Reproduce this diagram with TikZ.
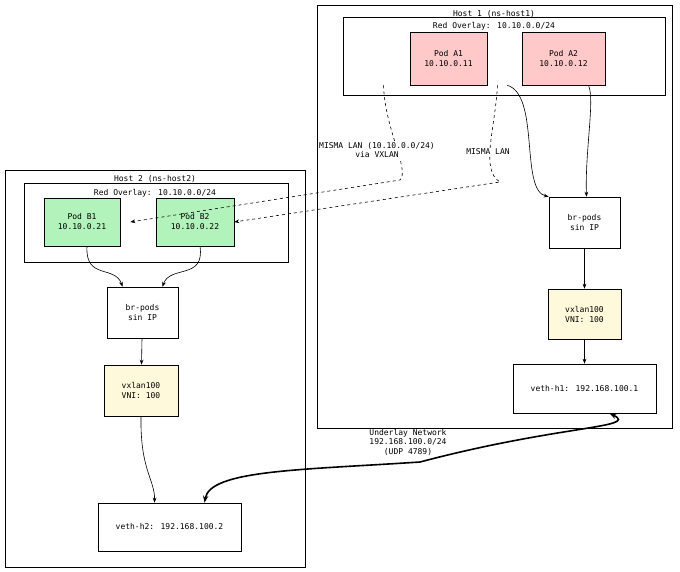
\documentclass[tikz,border=0pt]{standalone}
\usepackage{fontspec}
\setmainfont{DejaVu Sans Mono}
\usetikzlibrary{arrows.meta}
\definecolor{podred}{HTML}{FFC9C9}
\definecolor{podgreen}{HTML}{B2F2BB}
\definecolor{vx}{HTML}{FFF9DB}
\begin{document}
\begin{tikzpicture}[x=1pt,y=-1pt,
  box/.style={draw,line width=0.6pt,font=\fontsize{8}{10}\selectfont},
  nd/.style={box,align=center,inner sep=0},
  lbl/.style={font=\fontsize{8}{9.5}\selectfont,align=center,fill=white,inner sep=1pt},
  arr/.style={-{Stealth[length=5pt]},line width=0.6pt},
  dsh/.style={arr,dashed}]
\useasboundingbox (0,0) rectangle (680,572);
% Host 1
\draw[line width=0.6pt] (317,5) rectangle (672,428);
\node[font=\fontsize{8}{10}\selectfont] (h1t) at (494,14) {Host 1 (ns-host1)};
\draw[line width=0.6pt] (343,17) rectangle (665,95);
\node[font=\fontsize{8}{10}\selectfont] (o1t) at (494,26) {Red Overlay: 10.10.0.0/24};
\node[nd,fill=podred,minimum width=77pt,minimum height=53pt] (a1) at (448.5,58.5) {Pod A1\\10.10.0.11};
\node[nd,fill=podred,minimum width=83pt,minimum height=53pt] (a2) at (563.5,58.5) {Pod A2\\10.10.0.12};
\node[nd,fill=white,minimum width=71pt,minimum height=51pt] (br1) at (584.5,222.5) {br-pods\\sin IP};
\node[nd,fill=vx,minimum width=73pt,minimum height=50pt] (vx1) at (584.5,314) {vxlan100\\VNI: 100};
\node[nd,fill=white,minimum width=143pt,minimum height=49pt] (v1) at (584.5,388.5) {veth-h1: 192.168.100.1};
% Host 2
\draw[line width=0.6pt] (5,170) rectangle (305,567);
\node[font=\fontsize{8}{10}\selectfont] (h2t) at (155,179) {Host 2 (ns-host2)};
\draw[line width=0.6pt] (24,183) rectangle (288,262);
\node[font=\fontsize{8}{10}\selectfont] (o2t) at (155,193) {Red Overlay: 10.10.0.0/24};
\node[nd,fill=podgreen,minimum width=76pt,minimum height=48pt] (b1) at (82,222) {Pod B1\\10.10.0.21};
\node[nd,fill=podgreen,minimum width=78pt,minimum height=48pt] (b2) at (195,222) {Pod B2\\10.10.0.22};
\node[nd,fill=white,minimum width=71pt,minimum height=51pt] (br2) at (142.5,312.5) {br-pods\\sin IP};
\node[nd,fill=vx,minimum width=74pt,minimum height=51pt] (vx2) at (141,390.5) {vxlan100\\VNI: 100};
\node[nd,fill=white,minimum width=143pt,minimum height=48pt] (v2) at (169.5,527) {veth-h2: 192.168.100.2};
% solid arrows
\draw[arr] (a1.south east) ++(20,0) .. controls (540,95) and (520,190) .. (br1.north west);
\draw[arr] (a2.south) ++(25,0) .. controls (595,100) and (585,150) .. ([xshift=2pt]br1.north);
\draw[arr] (br1) -- (vx1);
\draw[arr] (vx1) -- (v1);
\draw[arr] ([xshift=5pt]b1.south) .. controls (85,280) and (115,265) .. ([xshift=-20pt]br2.north);
\draw[arr] ([xshift=5pt]b2.south) .. controls (205,280) and (170,265) .. ([xshift=20pt]br2.north);
\draw[arr] (br2) -- (vx2);
\draw[arr] (vx2.south) .. controls (140,470) and (155,480) .. ([xshift=-15pt]v2.north);
% dashed
\draw[dsh] ([xshift=-65pt]a1.south) .. controls (385,130) and (410,170) .. (400,180) -- ([xshift=10pt]b1.east);
\draw[dsh] ([xshift=49pt]a1.south) .. controls (495,130) and (480,170) .. (500,182) -- (b2.east);
% underlay
\draw[{Stealth[length=7pt]}-{Stealth[length=7pt]},line width=1.6pt] ([xshift=25pt]v1.south) .. controls (640,428) and (560,425) .. (420,462) .. controls (300,470) and (210,470) .. ([xshift=35pt]v2.north);
% labels
\node[lbl] (l1) at (377,150) {MISMA LAN (10.10.0.0/24)\\via VXLAN};
\node[lbl] (l2) at (488,152) {MISMA LAN};
\node[lbl,fill=none] (l3) at (408,442) {Underlay Network\\192.168.100.0/24\\(UDP 4789)};
\end{tikzpicture}
\end{document}
